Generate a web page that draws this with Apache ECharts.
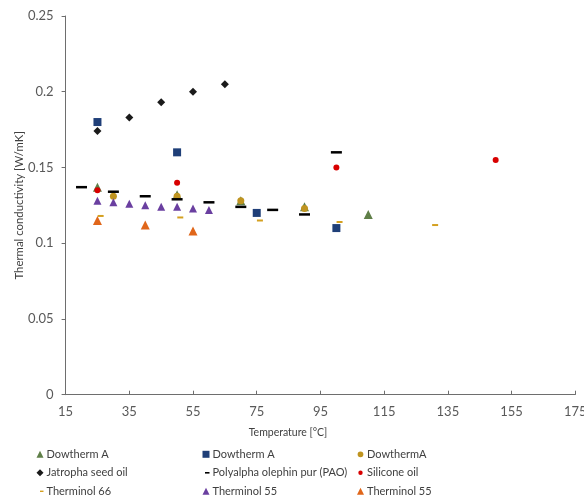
<!DOCTYPE html>
<html>
<head>
<meta charset="utf-8">
<style>
  html, body { margin: 0; padding: 0; background: #fff; overflow: hidden; }
  #chart { width: 584px; height: 495px; }
</style>
<script src="https://cdn.jsdelivr.net/npm/echarts@6/dist/echarts.min.js"></script>
</head>
<body>
<div id="chart"></div>
<script>
// Thermal conductivity of heat-transfer fluids vs. temperature
const xTicks = { min: 15, max: 175, step: 20 };
const yTicks = { min: 0, max: 0.25, step: 0.05 };

// [temperature °C, conductivity W/mK]
const dowthermA_tri = [[25, 0.137], [50, 0.132], [70, 0.128], [90, 0.124], [110, 0.119]];
const dowthermA_sq  = [[25, 0.180], [50, 0.160], [75, 0.120], [100, 0.110]];
const dowthermA_dot = [[30, 0.131], [50, 0.131], [70, 0.128], [90, 0.123]];
const jatropha      = [[25, 0.174], [35, 0.183], [45, 0.193], [55, 0.200], [65, 0.205]];
const pao           = [[20, 0.137], [30, 0.134], [40, 0.131], [50, 0.129], [60, 0.127],
                       [70, 0.124], [80, 0.122], [90, 0.119], [100, 0.160]];
const siliconeOil   = [[25, 0.135], [50, 0.140], [100, 0.150], [150, 0.155]];
const therminol66   = [[26, 0.118], [51, 0.117], [76, 0.115], [101, 0.114], [131, 0.112]];
const therminol55a  = [[25, 0.128], [30, 0.127], [35, 0.126], [40, 0.125], [45, 0.124],
                       [50, 0.124], [55, 0.123], [60, 0.122]];
const therminol55b  = [[25, 0.115], [40, 0.112], [55, 0.108]];

const seriesKeys = ['dtA_tri', 'dtA_sq', 'dtA_dot', 'jatropha', 'pao', 'silicone', 't66', 't55a', 't55b'];
const seriesLabels = ['Dowtherm A', 'Dowtherm A', 'DowthermA', 'Jatropha seed oil',
  'Polyalpha olephin pur (PAO)', 'Silicone oil', 'Therminol 66', 'Therminol 55', 'Therminol 55'];

const labelOf = {};
seriesKeys.forEach((k, i) => { labelOf[k] = seriesLabels[i]; });

const FONT = 'Lato, "Open Sans", sans-serif';
const AXIS_GREY = '#6e6e6e';

// legend icons drawn inside a 7x7 box (the leading moves pin the box size)
const dashIcon = 'path://M0,0M7,7M2.5,2.7L7,2.7L7,4.3L2.5,4.3Z';
const smallDashIcon = 'path://M0,0M7,7M3.5,2.8L7,2.8L7,4.2L3.5,4.2Z';
const smallDotIcon = 'path://M0,0M7,7M3.5,1.3A2.2,2.2,0,1,1,3.5,5.7A2.2,2.2,0,1,1,3.5,1.3Z';
const midDotIcon = 'path://M0,0M7,7M3.5,0.6A2.9,2.9,0,1,1,3.5,6.4A2.9,2.9,0,1,1,3.5,0.6Z';

function scatter(key, data, symbol, size, color) {
  return {
    type: 'scatter', name: key, data: data,
    symbol: symbol, symbolSize: size,
    itemStyle: { color: color, opacity: 1 },
    emphasis: { disabled: true }
  };
}

function legendColumn(left, keys, icons) {
  return {
    orient: 'vertical', left: left, top: 448.3, height: 80, padding: 0,
    itemWidth: 7, itemHeight: 7, itemGap: 6.5,
    selectedMode: false,
    data: keys.map((k, i) => ({ name: k, icon: icons[i] })),
    formatter: name => labelOf[name],
    textStyle: { fontFamily: FONT, fontSize: 11, color: '#404040', lineHeight: 12,
                 padding: [0, 0, 0, -2] }
  };
}

const chart = echarts.init(document.getElementById('chart'), null, { renderer: 'canvas' });
chart.setOption({
  animation: false,
  grid: { left: 65.6, right: 8.7, top: 16, bottom: 100.3,
          containLabel: false, outerBoundsMode: 'none' },
  xAxis: {
    type: 'value', min: xTicks.min, max: xTicks.max, interval: xTicks.step,
    axisLine: { lineStyle: { color: AXIS_GREY, width: 1 } },
    axisTick: { show: true, inside: true, length: 4, lineStyle: { color: AXIS_GREY } },
    axisLabel: { margin: 11, color: '#595959', fontFamily: FONT, fontSize: 13 },
    splitLine: { show: false }
  },
  yAxis: {
    type: 'value', min: yTicks.min, max: yTicks.max, interval: yTicks.step,
    name: 'Thermal conductivity [W/mK]', nameLocation: 'middle', nameGap: 41,
    nameMoveOverlap: false,
    nameTextStyle: { color: '#404040', fontFamily: FONT, fontSize: 11.4 },
    axisLine: { show: true, lineStyle: { color: AXIS_GREY, width: 1 } },
    axisTick: { show: true, inside: false, length: 4, lineStyle: { color: AXIS_GREY } },
    axisLabel: { margin: 12, color: '#595959', fontFamily: FONT, fontSize: 13 },
    splitLine: { show: false }
  },
  graphic: [{
    type: 'text', x: 288, y: 433,
    style: { text: 'Temperature [°C]', fill: '#404040', font: '10.5px ' + FONT,
             align: 'center', verticalAlign: 'middle' }
  }],
  legend: [
    legendColumn(36.5, ['dtA_tri', 'jatropha', 't66'], ['triangle', 'diamond', smallDashIcon]),
    legendColumn(202.5, ['dtA_sq', 'pao', 't55a'], ['rect', dashIcon, 'triangle']),
    legendColumn(357, ['dtA_dot', 'silicone', 't55b'], [midDotIcon, smallDotIcon, 'triangle'])
  ],
  series: [
    scatter('dtA_tri', dowthermA_tri, 'triangle', 9, '#5f7f48'),
    scatter('dtA_sq', dowthermA_sq, 'rect', 8, '#1f3f78'),
    scatter('dtA_dot', dowthermA_dot, 'circle', 7, '#bf9420'),
    scatter('jatropha', jatropha, 'diamond', 8, '#1a1a1a'),
    scatter('pao', pao, 'rect', [11, 2.5], '#000000'),
    scatter('silicone', siliconeOil, 'circle', 6, '#d80000'),
    scatter('t66', therminol66, 'rect', [6, 2], '#d4a020'),
    scatter('t55a', therminol55a, 'triangle', 8, '#6a3fa0'),
    scatter('t55b', therminol55b, 'triangle', 9, '#e0661a')
  ]
});
</script>
</body>
</html>
